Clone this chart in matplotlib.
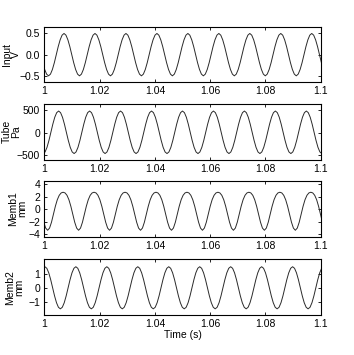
import numpy as np
import matplotlib
matplotlib.use("Agg")
import matplotlib.pyplot as plt

plt.rcParams['font.family'] = ['Liberation Sans', 'DejaVu Sans']

# sampled traces (one row per cycle), sample spacing and first sample time per channel
dt = 0.0007
t_start = [0.99315, 0.9912, 0.99282, 0.99743]

input_v = [
    0, 0.19, 0.35, 0.46, 0.5, 0.46, 0.35, 0.19, 0, -0.19, -0.35, -0.46, -0.5, -0.46, -0.35, -0.19,
    0, 0.19, 0.35, 0.46, 0.5, 0.46, 0.35, 0.19, 0, -0.19, -0.35, -0.46, -0.5, -0.46, -0.35, -0.19,
    0, 0.19, 0.35, 0.46, 0.5, 0.46, 0.35, 0.19, 0, -0.19, -0.35, -0.46, -0.5, -0.46, -0.35, -0.19,
    0, 0.19, 0.35, 0.46, 0.5, 0.46, 0.35, 0.19, 0, -0.19, -0.35, -0.46, -0.5, -0.46, -0.35, -0.19,
    0, 0.19, 0.35, 0.46, 0.5, 0.46, 0.35, 0.19, 0, -0.19, -0.35, -0.46, -0.5, -0.46, -0.35, -0.19,
    0, 0.19, 0.35, 0.46, 0.5, 0.46, 0.35, 0.19, 0, -0.19, -0.35, -0.46, -0.5, -0.46, -0.35, -0.19,
    0, 0.19, 0.35, 0.46, 0.5, 0.46, 0.35, 0.19, 0, -0.19, -0.35, -0.46, -0.5, -0.46, -0.35, -0.19,
    0, 0.19, 0.35, 0.46, 0.5, 0.46, 0.35, 0.19, 0, -0.19, -0.35, -0.46, -0.5, -0.46, -0.35, -0.19,
    0, 0.19, 0.35, 0.46, 0.5, 0.46, 0.35, 0.19, 0, -0.19, -0.35, -0.46, -0.5, -0.46, -0.35, -0.19,
    0, 0.19, 0.35, 0.46, 0.5, 0.46, 0.35, 0.19, 0, -0.19, -0.35, -0.46, -0.5, -0.46, -0.35, -0.19,
]

tube_pa = [
    8, 190, 344, 447, 483, 447, 344, 190, 8, -174, -328, -431, -467, -431, -328, -174,
    8, 190, 344, 447, 483, 447, 344, 190, 8, -174, -328, -431, -467, -431, -328, -174,
    8, 190, 344, 447, 483, 447, 344, 190, 8, -174, -328, -431, -467, -431, -328, -174,
    8, 190, 344, 447, 483, 447, 344, 190, 8, -174, -328, -431, -467, -431, -328, -174,
    8, 190, 344, 447, 483, 447, 344, 190, 8, -174, -328, -431, -467, -431, -328, -174,
    8, 190, 344, 447, 483, 447, 344, 190, 8, -174, -328, -431, -467, -431, -328, -174,
    8, 190, 344, 447, 483, 447, 344, 190, 8, -174, -328, -431, -467, -431, -328, -174,
    8, 190, 344, 447, 483, 447, 344, 190, 8, -174, -328, -431, -467, -431, -328, -174,
    8, 190, 344, 447, 483, 447, 344, 190, 8, -174, -328, -431, -467, -431, -328, -174,
    8, 190, 344, 447, 483, 447, 344, 190, 8, -174, -328, -431, -467, -431, -328, -174,
]

memb1_mm = [
    0.45, 1.50, 2.21, 2.59, 2.70, 2.59, 2.21, 1.50, 0.45, -0.83, -2.11, -3.05, -3.40, -3.05, -2.11, -0.83,
    0.45, 1.50, 2.21, 2.59, 2.70, 2.59, 2.21, 1.50, 0.45, -0.83, -2.11, -3.05, -3.40, -3.05, -2.11, -0.83,
    0.45, 1.50, 2.21, 2.59, 2.70, 2.59, 2.21, 1.50, 0.45, -0.83, -2.11, -3.05, -3.40, -3.05, -2.11, -0.83,
    0.45, 1.50, 2.21, 2.59, 2.70, 2.59, 2.21, 1.50, 0.45, -0.83, -2.11, -3.05, -3.40, -3.05, -2.11, -0.83,
    0.45, 1.50, 2.21, 2.59, 2.70, 2.59, 2.21, 1.50, 0.45, -0.83, -2.11, -3.05, -3.40, -3.05, -2.11, -0.83,
    0.45, 1.50, 2.21, 2.59, 2.70, 2.59, 2.21, 1.50, 0.45, -0.83, -2.11, -3.05, -3.40, -3.05, -2.11, -0.83,
    0.45, 1.50, 2.21, 2.59, 2.70, 2.59, 2.21, 1.50, 0.45, -0.83, -2.11, -3.05, -3.40, -3.05, -2.11, -0.83,
    0.45, 1.50, 2.21, 2.59, 2.70, 2.59, 2.21, 1.50, 0.45, -0.83, -2.11, -3.05, -3.40, -3.05, -2.11, -0.83,
    0.45, 1.50, 2.21, 2.59, 2.70, 2.59, 2.21, 1.50, 0.45, -0.83, -2.11, -3.05, -3.40, -3.05, -2.11, -0.83,
    0.45, 1.50, 2.21, 2.59, 2.70, 2.59, 2.21, 1.50, 0.45, -0.83, -2.11, -3.05, -3.40, -3.05, -2.11, -0.83,
]

memb2_mm = [
    0, 0.57, 1.05, 1.37, 1.48, 1.37, 1.05, 0.57, 0, -0.57, -1.05, -1.37, -1.48, -1.37, -1.05, -0.57,
    0, 0.57, 1.05, 1.37, 1.48, 1.37, 1.05, 0.57, 0, -0.57, -1.05, -1.37, -1.48, -1.37, -1.05, -0.57,
    0, 0.57, 1.05, 1.37, 1.48, 1.37, 1.05, 0.57, 0, -0.57, -1.05, -1.37, -1.48, -1.37, -1.05, -0.57,
    0, 0.57, 1.05, 1.37, 1.48, 1.37, 1.05, 0.57, 0, -0.57, -1.05, -1.37, -1.48, -1.37, -1.05, -0.57,
    0, 0.57, 1.05, 1.37, 1.48, 1.37, 1.05, 0.57, 0, -0.57, -1.05, -1.37, -1.48, -1.37, -1.05, -0.57,
    0, 0.57, 1.05, 1.37, 1.48, 1.37, 1.05, 0.57, 0, -0.57, -1.05, -1.37, -1.48, -1.37, -1.05, -0.57,
    0, 0.57, 1.05, 1.37, 1.48, 1.37, 1.05, 0.57, 0, -0.57, -1.05, -1.37, -1.48, -1.37, -1.05, -0.57,
    0, 0.57, 1.05, 1.37, 1.48, 1.37, 1.05, 0.57, 0, -0.57, -1.05, -1.37, -1.48, -1.37, -1.05, -0.57,
    0, 0.57, 1.05, 1.37, 1.48, 1.37, 1.05, 0.57, 0, -0.57, -1.05, -1.37, -1.48, -1.37, -1.05, -0.57,
    0, 0.57, 1.05, 1.37, 1.48, 1.37, 1.05, 0.57, 0, -0.57, -1.05, -1.37, -1.48, -1.37, -1.05, -0.57,
]

ylabels = ['Input\nV', 'Tube\nPa', 'Memb1\nmm', 'Memb2\nmm']
yticks = [[-0.5, 0, 0.5], [-500, 0, 500], [-4, -2, 0, 2, 4], [-1, 0, 1]]
ylims = [(-0.65, 0.66), (-600, 640), (-4.4, 4.5), (-1.9, 2.0)]
xticks = [1, 1.02, 1.04, 1.06, 1.08, 1.1]
xticklabels = ['1', '1.02', '1.04', '1.06', '1.08', '1.1']
signals = [input_v, tube_pa, memb1_mm, memb2_mm]

fig = plt.figure(figsize=(3.54, 3.55), dpi=100)

bottoms = [0.7685, 0.5507, 0.3338, 0.1132]
label_x = [-0.086, -0.084, -0.063, -0.073]
fs = 7.5

for i in range(4):
    ax = fig.add_axes([0.125, bottoms[i], 0.781, 0.1563])
    y = np.array(signals[i])
    t = t_start[i] + dt * np.arange(len(y))
    ax.plot(t, y, color='#2a2a2a', lw=0.7)
    ax.set_xlim(1, 1.1)
    ax.set_ylim(*ylims[i])
    ax.set_xticks(xticks)
    ax.set_xticklabels(xticklabels)
    ax.set_yticks(yticks[i])
    ax.tick_params(direction='in', length=2.5, width=0.6, top=True, right=True,
                   labelsize=fs, pad=3)
    for s in ax.spines.values():
        s.set_linewidth(0.8)
    ax.set_ylabel(ylabels[i], fontsize=fs, linespacing=0.85)
    ax.yaxis.set_label_coords(label_x[i], 0.5)
    if i == 3:
        ax.set_xlabel('Time (s)', fontsize=fs, labelpad=1)

fig.savefig('out.png', dpi=100)
